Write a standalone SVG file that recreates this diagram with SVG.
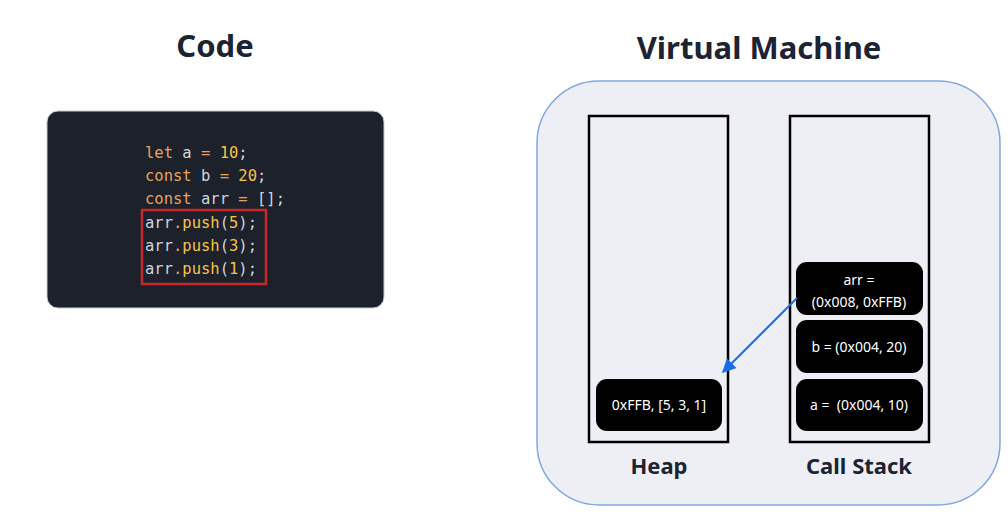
<svg xmlns="http://www.w3.org/2000/svg" width="1008" height="518" viewBox="0 0 1008 518">
<defs>
<style>
.title{font-family:"Noto Sans","Open Sans",sans-serif;font-weight:bold;fill:#1c2333;text-anchor:middle}
.code{font-family:"DejaVu Sans Mono","Liberation Mono",monospace;font-size:15.5px;fill:#d0d4dc}
.kw{fill:#e8a25a}
.num{fill:#f5c447}
.node rect{fill:#000;}
.node text{font-family:"Noto Sans","Open Sans",sans-serif;font-size:14px;fill:#fff;text-anchor:middle;white-space:pre}
.col{fill:none;stroke:#000;stroke-width:2.5}
.lbl{font-family:"Noto Sans","Open Sans",sans-serif;font-weight:bold;font-size:22px;fill:#1c2333;text-anchor:middle}
</style>
<marker id="ah" viewBox="0 0 10 10" refX="9" refY="5" markerWidth="7" markerHeight="7" orient="auto-start-reverse">
<path d="M0,0 L10,5 L0,10 z" fill="#1a6fe8"/>
</marker>
</defs>
<rect width="1008" height="518" fill="#fff"/>
<text class="title" x="215" y="57" font-size="31">Code</text>
<text class="title" x="759" y="59" font-size="31">Virtual Machine</text>

<g id="code">
<rect x="47" y="111" width="337" height="197" rx="11" fill="#1c212b" stroke="#c8ccd4" stroke-width="1"/>
<text class="code" x="145" y="158"><tspan class="kw">let</tspan> a <tspan class="kw">=</tspan> <tspan class="num">10</tspan>;</text>
<text class="code" x="145" y="181"><tspan class="kw">const</tspan> b <tspan class="kw">=</tspan> <tspan class="num">20</tspan>;</text>
<text class="code" x="145" y="204"><tspan class="kw">const</tspan> arr <tspan class="kw">=</tspan> [];</text>
<text class="code" x="145" y="228">arr<tspan class="kw">.</tspan><tspan class="num">push</tspan>(<tspan class="num">5</tspan>);</text>
<text class="code" x="145" y="251">arr<tspan class="kw">.</tspan><tspan class="num">push</tspan>(<tspan class="num">3</tspan>);</text>
<text class="code" x="145" y="274">arr<tspan class="kw">.</tspan><tspan class="num">push</tspan>(<tspan class="num">1</tspan>);</text>
<rect x="142" y="210" width="124" height="74" fill="none" stroke="#c8282a" stroke-width="2.5"/>
</g>

<g id="vm">
<rect x="537" y="81" width="463" height="424" rx="62" fill="#eeeef5" stroke="#7fa9df" stroke-width="1.5"/>
</g>
<g id="heap">
<rect class="col" x="589" y="116" width="139" height="326"/>
<text class="lbl" x="659" y="474">Heap</text>
</g>
<g id="callstack">
<rect class="col" x="790" y="116" width="139" height="326"/>
<text class="lbl" x="859" y="474">Call Stack</text>
</g>
<g id="heap-node" class="node">
<rect x="596" y="379" width="126" height="52" rx="11"/>
<text x="659" y="410">0xFFB, [5, 3, 1]</text>
</g>
<g id="arr-node" class="node">
<rect x="796" y="262" width="127" height="53" rx="11"/>
<text x="859" y="285">arr =</text>
<text x="859" y="307">(0x008, 0xFFB)</text>
</g>
<g id="b-node" class="node">
<rect x="796" y="320" width="127" height="53" rx="11"/>
<text x="859" y="352">b = (0x004, 20)</text>
</g>
<g id="a-node" class="node">
<rect x="796" y="379" width="127" height="52" rx="11"/>
<text x="859" y="410">a =  (0x004, 10)</text>
</g>
<g id="connectors">
<line x1="797" y1="298" x2="723" y2="372" stroke="#1a6fe8" stroke-width="2" marker-end="url(#ah)"/>
</g>
</svg>
